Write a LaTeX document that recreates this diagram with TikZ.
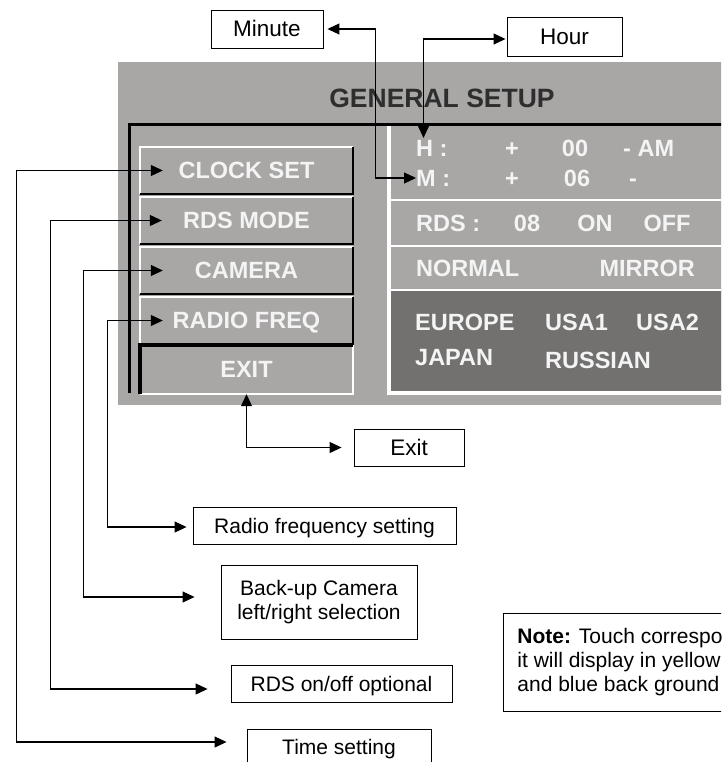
\documentclass[tikz,border=0pt]{standalone}
\usepackage{fontspec}
\setmainfont{Liberation Sans}
\usepackage{tikz}
\usetikzlibrary{arrows.meta}

\definecolor{panelgray}{HTML}{A8A7A5}
\definecolor{paneldark}{HTML}{727170}
\definecolor{panelwhite}{HTML}{F4F4F4}
\definecolor{titlegray}{HTML}{2E2E2E}

\tikzset{
    paneltxt/.style={font=\bfseries\fontsize{23.5}{26}\selectfont, text=panelwhite, inner sep=0pt, text height=16.8pt, text depth=0pt},
    menubtn/.style={paneltxt, fill=panelgray, minimum width=213pt, minimum height=47pt},
    labelbox/.style={draw=black, line width=0.9pt, fill=white, font=\fontsize{21}{24}\selectfont, inner sep=0pt, text height=15pt, text depth=0pt},
    biglabel/.style={labelbox, font=\fontsize{22.5}{26}\selectfont, text height=16pt},
    link/.style={<->, line width=1.1pt},
}

\begin{document}
\begin{tikzpicture}[x=1pt, y=-1pt, >={Triangle[length=12pt,width=11pt]}]
    \useasboundingbox (0,0) rectangle (721,762);
    \clip (0,0) rectangle (721,762);
    \fill[white] (0,0) rectangle (721,762);

    \fill[panelgray] (118,62) rectangle (730,405);
    \node[font=\bfseries\fontsize{26.5}{30}\selectfont, text=titlegray] (title) at (442,98) {GENERAL SETUP};
    \draw[line width=3pt] (129,393) -- (129,124.5) -- (730,124.5);

    \fill[paneldark] (390,290) rectangle (730,391);
    \draw[white, line width=4pt] (388.5,126) -- (388.5,391);
    \draw[white, line width=3.5pt] (386.5,393) -- (730,393);
    \draw[white, line width=2pt] (390,200) -- (730,200);
    \draw[white, line width=2pt] (390,245.5) -- (730,245.5);
    \draw[white, line width=2pt] (390,289.5) -- (730,289.5);

    \node[menubtn] (bclock) at (246.5,170.5) {CLOCK SET};
    \node[menubtn] (brds) at (246.5,220.5) {RDS MODE};
    \node[menubtn] (bcam) at (246.5,270.5) {CAMERA};
    \node[menubtn] (bradio) at (246.5,320.5) {RADIO FREQ};
    \node[menubtn, minimum height=49pt] (bexit) at (246.5,369.5) {EXIT};
    \foreach \b in {bclock,brds,bcam,bradio} {
        \draw[white, line width=2.5pt] (\b.south west) |- (\b.north east);
        \draw[black, line width=2.5pt] (\b.south west) -| (\b.north east);
    }
    \draw[white, line width=2.5pt] (bexit.south west) -| (bexit.north east);
    \draw[black, line width=3.5pt] (bexit.south west) |- (bexit.north east);

    \node[paneltxt, anchor=west] (hlab) at (416,148) {H :};
    \node[paneltxt] (hplus) at (512,148) {+};
    \node[paneltxt] (hval) at (575,148) {00};
    \node[paneltxt, anchor=west] (hampm) at (623,148) {- AM};
    \node[paneltxt, anchor=west] (mlab) at (416,178) {M :};
    \node[paneltxt] (mplus) at (512,178) {+};
    \node[paneltxt] (mval) at (577,178) {06};
    \node[paneltxt] (mminus) at (633,178) {-};
    \node[paneltxt, anchor=west] (rdslab) at (416,223) {RDS :};
    \node[paneltxt] (rdsval) at (527,223) {08};
    \node[paneltxt] (rdson) at (595,223) {ON};
    \node[paneltxt] (rdsoff) at (667,223) {OFF};
    \node[paneltxt, anchor=west] (normal) at (416,268) {NORMAL};
    \node[paneltxt, anchor=east] (mirror) at (695,268) {MIRROR};
    \node[paneltxt, anchor=west] (europe) at (415,322) {EUROPE};
    \node[paneltxt, anchor=west] (usaone) at (545,322) {USA1};
    \node[paneltxt, anchor=west] (usatwo) at (636,322) {USA2};
    \node[paneltxt, anchor=west] (japan) at (415,357) {JAPAN};
    \node[paneltxt, anchor=west] (russian) at (545,360) {RUSSIAN};

    \node[biglabel, minimum width=112pt, minimum height=38pt] (minbox) at (267,29) {Minute};
    \node[biglabel, minimum width=115pt, minimum height=39pt] (hourbox) at (564.5,36.5) {Hour};
    \node[biglabel, minimum width=110pt, minimum height=37pt] (exitbox) at (409,447.5) {Exit};
    \node[labelbox, minimum width=263pt, minimum height=37pt] (radiobox) at (324.5,525.5) {Radio frequency setting};
    \node[labelbox, minimum width=196pt, minimum height=74pt, align=center, text height=, text depth=] (cambox) at (319,602) {Back-up Camera\\left/right selection};
    \node[labelbox, minimum width=221pt, minimum height=37pt] (rdsbox) at (341.5,683.5) {RDS on/off optional};
    \node[labelbox, minimum width=184pt, minimum height=36pt] (timebox) at (339,747) {Time setting};
    \node[labelbox, anchor=north west, inner xsep=14pt, minimum height=98pt, align=left, text height=, text depth=] (note) at (503,613) {\textbf{Note:} Touch correspo\\it will display in yellow\\and blue back ground};

    \draw[link] ([xshift=4pt]minbox.east) -- ++(48,0) |- (mlab.west);
    \draw[link] ([xshift=7.5pt,yshift=1.5pt]hlab.north west) |- ([xshift=-1pt,yshift=-2.5pt]hourbox.west);
    \draw[link] (bexit.south) |- ([xshift=-12pt]exitbox.west);
    \draw[link] ([xshift=23pt]bclock.west) -- ++(-146,0) |- ([xshift=-20pt,yshift=5pt]timebox.west);
    \draw[link] ([xshift=22pt]brds.west) -- ++(-111,0) |- ([xshift=-23pt,yshift=-5.5pt]rdsbox.west);
    \draw[link] ([xshift=23pt]bcam.west) -- ++(-79,0) |- ([xshift=-26pt,yshift=5pt]cambox.west);
    \draw[link] ([xshift=23pt]bradio.west) -- ++(-55,0) |- ([xshift=-6pt,yshift=-1.5pt]radiobox.west);
\end{tikzpicture}
\end{document}
